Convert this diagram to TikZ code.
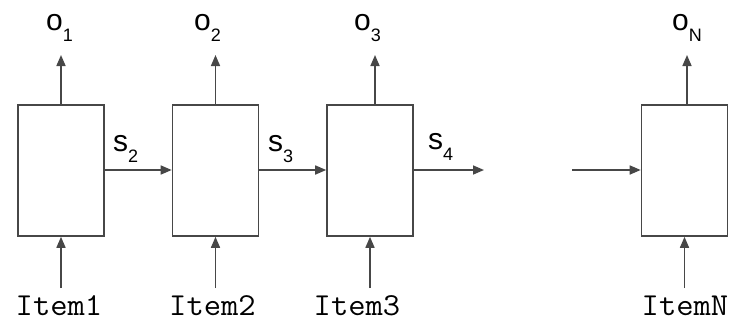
\documentclass[tikz,border=0pt]{standalone}
\usepackage{fontspec}
\setmainfont{Liberation Sans}
\setmonofont[FakeStretch=1.05]{Latin Modern Mono}
\usetikzlibrary{arrows.meta}
\definecolor{linec}{HTML}{474747}
\newcommand{\lbl}[2]{#1\raisebox{-11pt}{\fontsize{18}{18}\selectfont #2}}
\begin{document}
\begin{tikzpicture}[x=1pt,y=-1pt,
  cell/.style={draw=linec, line width=1.6pt, minimum width=86pt, minimum height=131pt, inner sep=0pt},
  conn/.style={draw=linec, line width=1.6pt, -{Triangle[length=11pt,width=9pt]}},
  outlbl/.style={anchor=base west, inner sep=0pt, font=\fontsize{30}{30}\selectfont},
  slbl/.style={anchor=base west, inner sep=0pt, font=\fontsize{30}{30}\selectfont},
  itemlbl/.style={anchor=base, inner sep=0pt, font=\ttfamily\fontsize{32}{32}\selectfont}]
\useasboundingbox (0,0) rectangle (741,325);

\node[cell] (b1) at (61,170.5) {};
\node[cell] (b2) at (215.5,170.5) {};
\node[cell] (b3) at (370,170.5) {};
\node[cell] (bN) at (684.5,170.5) {};

% outputs
\coordinate (t1) at (61,55);
\coordinate (t2) at (215.5,55);
\coordinate (t3) at (375,55);
\coordinate (tN) at (687,55);
\draw[conn] (b1.north) -- (t1);
\draw[conn] (b2.north) -- (t2);
\draw[conn] (b3.north -| t3) -- (t3);
\draw[conn] (bN.north -| tN) -- (tN);
\node[outlbl] (o1) at (46,30) {\lbl{o}{1}};
\node[outlbl] (o2) at (194,30) {\lbl{o}{2}};
\node[outlbl] (o3) at (354,30) {\lbl{o}{3}};
\node[outlbl] (oN) at (672,30) {\lbl{o}{N}};

% states
\draw[conn] (b1.east |- 0,170) -- (b2.west |- 0,170);
\draw[conn] (b2.east |- 0,170) -- (b3.west |- 0,170);
\coordinate (e3) at (484,170);
\coordinate (sN) at (572,170);
\draw[conn] (b3.east |- 0,170) -- (e3);
\draw[conn] (sN) -- (bN.west |- 0,170);
\node[slbl] (s2) at (113,151) {\lbl{s}{2}};
\node[slbl] (s3) at (268,151) {\lbl{s}{3}};
\node[slbl] (s4) at (428,149) {\lbl{s}{4}};

% inputs
\node[itemlbl] (i1) at (59,315) {Item1};
\node[itemlbl] (i2) at (212.5,315) {Item2};
\node[itemlbl] (i3) at (357,315) {Item3};
\node[itemlbl] (iN) at (685,315) {ItemN};
\coordinate (u1) at (61,288);
\coordinate (u2) at (215.5,288);
\coordinate (u3) at (370,288);
\coordinate (uN) at (684.5,288);
\draw[conn] (u1) -- (b1.south);
\draw[conn] (u2) -- (b2.south);
\draw[conn] (u3) -- (b3.south);
\draw[conn] (uN) -- (bN.south);
\end{tikzpicture}
\end{document}
